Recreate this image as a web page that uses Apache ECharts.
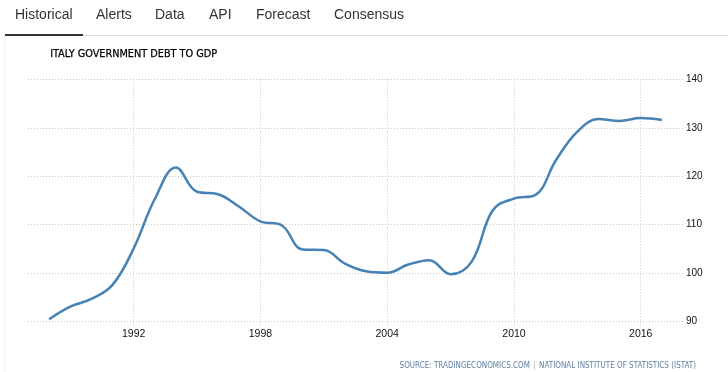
<!DOCTYPE html>
<html>
<head>
<meta charset="utf-8">
<script src="https://cdn.jsdelivr.net/npm/echarts@6/dist/echarts.min.js"></script>
<style>
html,body{margin:0;padding:0;background:#fff;}
#c{width:728px;height:372px;}
</style>
</head>
<body>
<div id="c"></div>
<script>
var years = [1988,1989,1990,1991,1992,1993,1994,1995,1996,1997,1998,1999,2000,2001,2002,2003,2004,2005,2006,2007,2008,2009,2010,2011,2012,2013,2014,2015,2016,2017];
var debtToGdp = [90.5,93.1,94.7,97.6,105.1,115.3,121.8,116.8,116.3,113.7,110.7,109.9,104.9,104.8,102.0,100.4,100.1,101.8,102.7,99.8,102.4,113.0,115.4,116.1,123.4,129.2,131.8,131.4,132.0,131.6];
var xTickYears = [1992,1998,2004,2010,2016];
var tabs = ['Historical','Alerts','Data','API','Forecast','Consensus'];
var tabX = [15,96,155,209,256,334];
var titleText = 'ITALY GOVERNMENT DEBT TO GDP';
var sourceLeft = 'SOURCE: TRADINGECONOMICS.COM';
var sourceRight = 'NATIONAL INSTITUTE OF STATISTICS (ISTAT)';

var seriesData = years.map(function(y,i){ return [y, debtToGdp[i]]; });

var graphics = [];
tabs.forEach(function(t,i){
  graphics.push({type:'text', left: tabX[i], top: 8, style:{text:t, font:'14px "Liberation Sans", Arial, sans-serif', fill:'#333'}});
});
graphics.push({type:'rect', shape:{x:5,y:35,width:723,height:1}, style:{fill:'#dddddd'}});
graphics.push({type:'rect', shape:{x:5,y:34,width:78,height:2}, style:{fill:'#333333'}});
graphics.push({type:'rect', shape:{x:4,y:36,width:1,height:336}, style:{fill:'#f2f2f2'}});
graphics.push({type:'text', left:50, top:49, style:{text:titleText, font:'10.8px "DejaVu Sans Condensed", "DejaVu Sans", sans-serif', fill:'#000', stroke:'#000', lineWidth:0.25}});
graphics.push({type:'text', right:32, top:360, style:{
  text:'{a|' + sourceLeft + '} {b||} {a|' + sourceRight + '}',
  rich:{
    a:{font:'8px "DejaVu Sans Condensed", "DejaVu Sans", sans-serif', fill:'#5f7f9f'},
    b:{font:'8px "DejaVu Sans Condensed", "DejaVu Sans", sans-serif', fill:'#b0b0b0'}
  }
}});

var chart = echarts.init(document.getElementById('c'));
chart.setOption({
  animation:false,
  backgroundColor:'#fff',
  graphic: graphics,
  grid:{left:28, right:45, top:79.3, bottom:50.3, containLabel:false},
  xAxis:{
    type:'value', min:1987, max:2018,
    axisLine:{show:false},
    axisTick:{show:true, length:4, customValues:xTickYears, lineStyle:{color:'#c8c8c8', type:[1,2]}},
    axisLabel:{customValues:xTickYears, formatter:function(v){return String(v);}, color:'#111', fontSize:10.5, fontFamily:'"Liberation Sans", Arial, sans-serif', margin:7},
    splitLine:{show:true, lineStyle:{color:'#c8c8c8', type:[1,2], width:1}}
  },
  yAxis:{
    type:'value', position:'right', min:90, max:140, interval:10,
    axisLine:{show:false}, axisTick:{show:false},
    axisLabel:{color:'#111', fontSize:10, fontFamily:'"Liberation Sans", Arial, sans-serif', margin:3},
    splitLine:{show:true, lineStyle:{color:'#c8c8c8', type:[1,2], width:1}}
  },
  series:[{
    type:'line', data:seriesData, smooth:0.4, showSymbol:false,
    lineStyle:{color:'#4682b4', width:2.5},
    itemStyle:{color:'#4682b4'}
  }]
});
</script>
</body>
</html>
